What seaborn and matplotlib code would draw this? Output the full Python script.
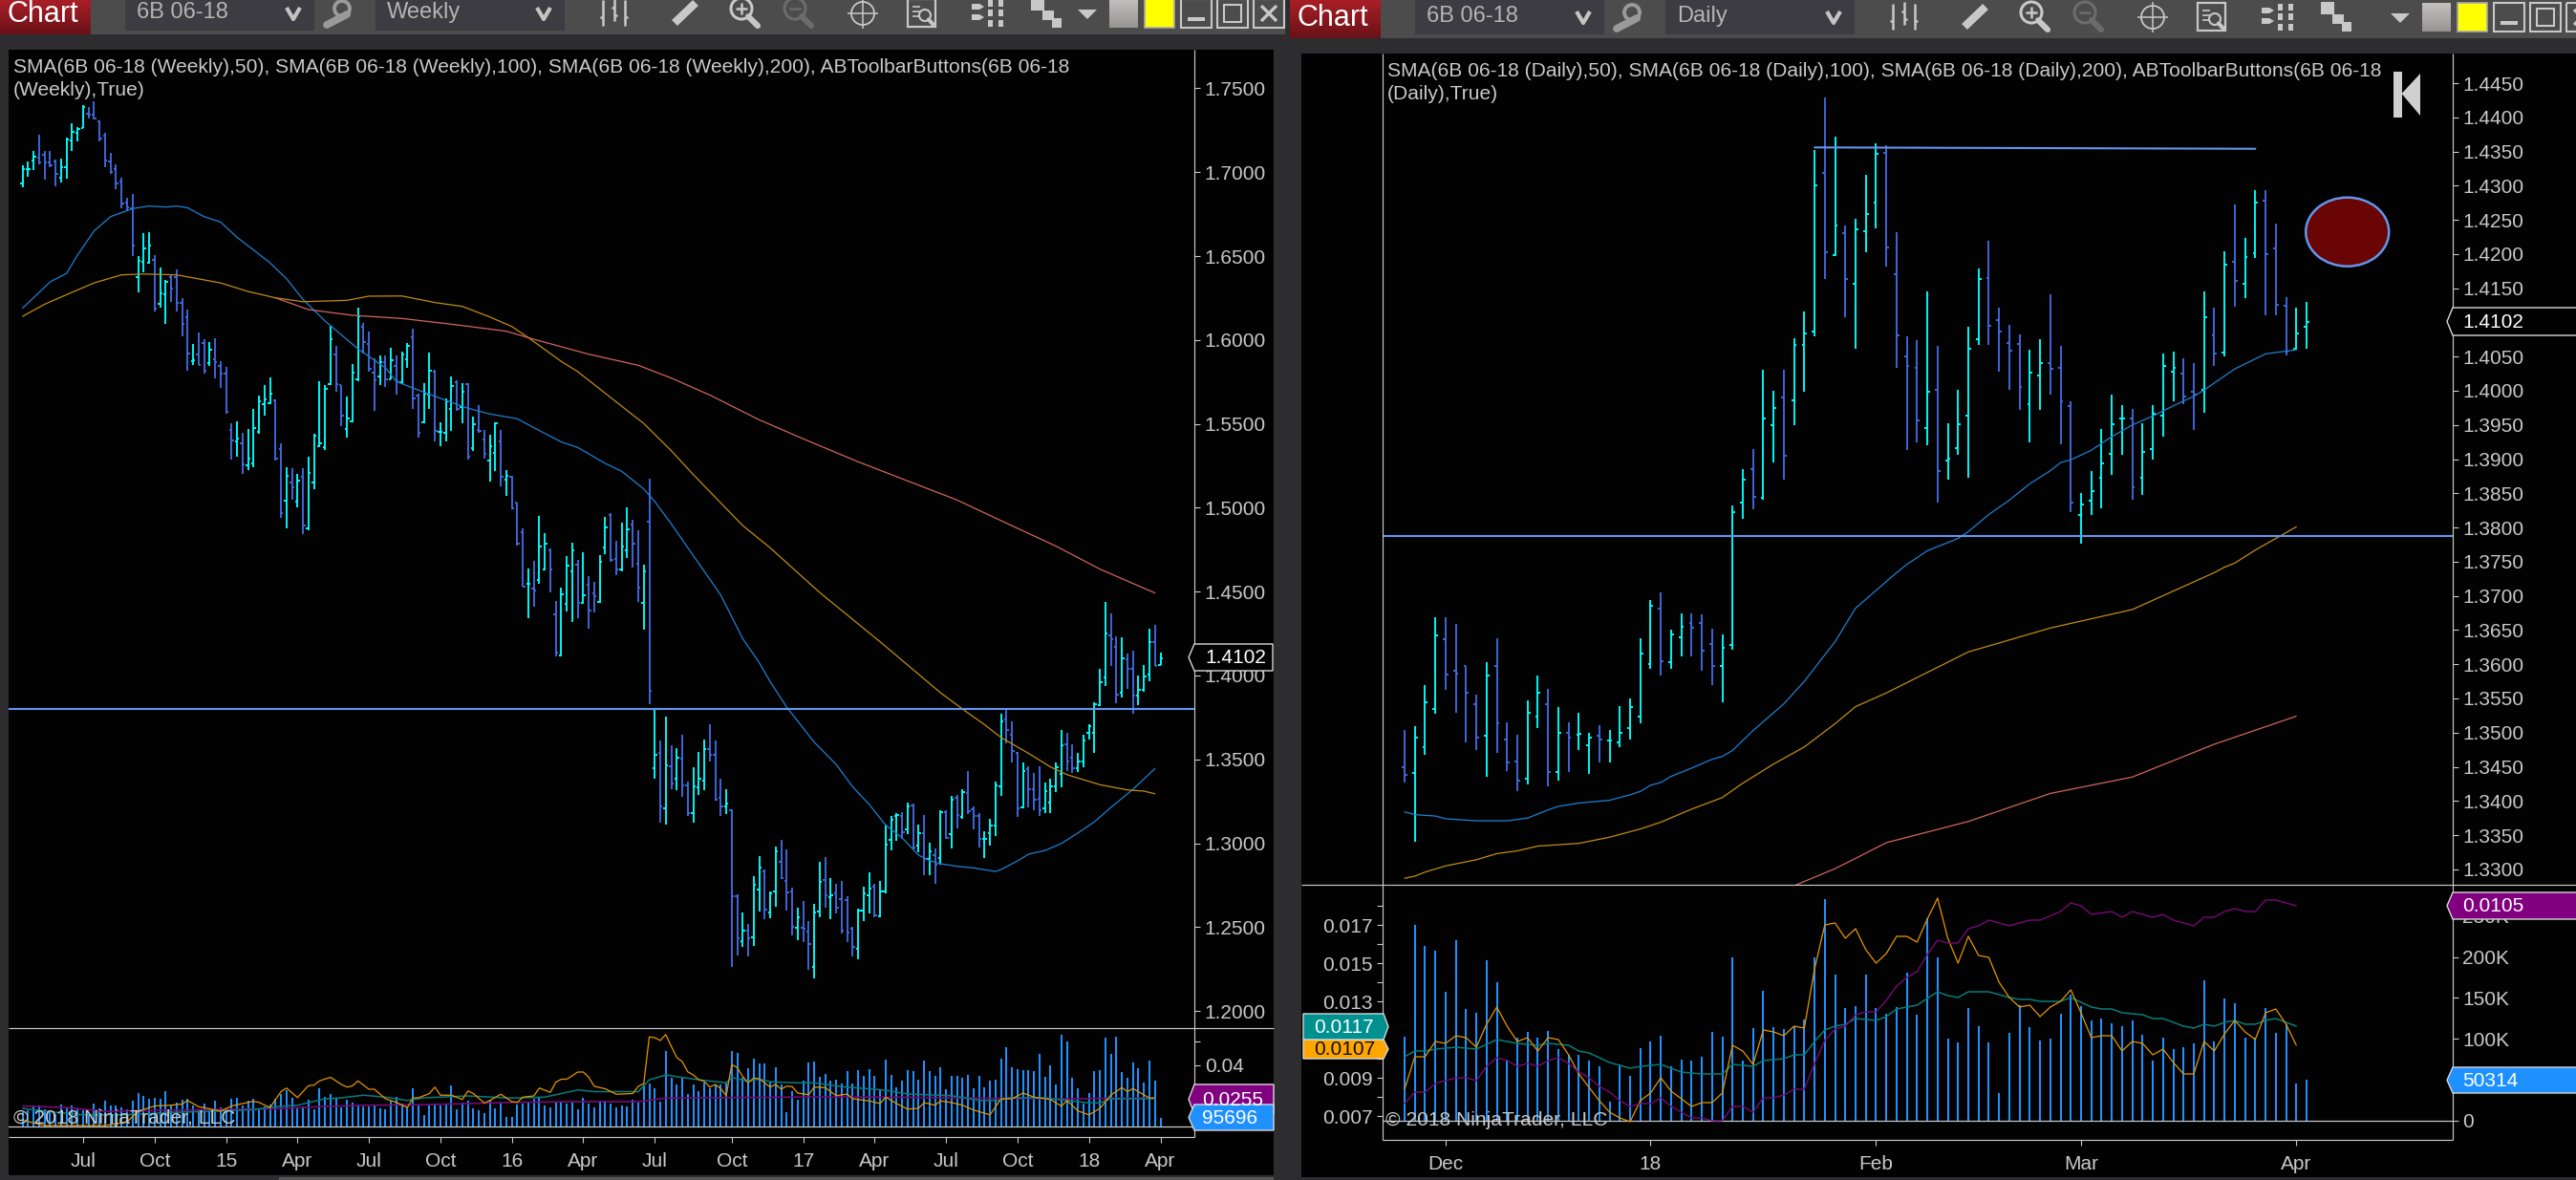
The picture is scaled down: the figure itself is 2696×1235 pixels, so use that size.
import numpy as np
import pandas as pd
import seaborn as sns
import matplotlib
matplotlib.use("Agg")
import matplotlib.pyplot as plt
from matplotlib.patches import Rectangle, Polygon, Ellipse, Circle
from matplotlib.colors import LinearSegmentedColormap

# ------------------------------------------------------------- weekly data
w_high = [1.7039,1.7062,1.7124,1.7223,1.7124,1.7124,1.7077,1.7083,1.7204,1.7290,
 1.7267,1.7400,1.7390,1.7422,1.7308,1.7233,1.7115,1.7045,1.6967,1.6845,
 1.6868,1.6502,1.6635,1.6640,1.6507,1.6431,1.6355,1.6384,1.6418,1.6247,
 1.6179,1.5976,1.6043,1.6005,1.5990,1.6010,1.5872,1.5840,1.5504,1.5513,
 1.5445,1.5467,1.5587,1.5669,1.5729,1.5775,1.5644,1.5382,1.5240,1.5234,
 1.5202,1.5234,1.5302,1.5439,1.5752,1.5729,1.6084,1.5963,1.5733,1.5663,
 1.5857,1.6195,1.6100,1.6048,1.5891,1.5906,1.5910,1.5952,1.5910,1.5929,
 1.5980,1.6067,1.5682,1.5743,1.5923,1.5821,1.5507,1.5650,1.5783,1.5758,
 1.5743,1.5741,1.5543,1.5610,1.5464,1.5435,1.5511,1.5464,1.5223,1.5188,
 1.5033,1.4875,1.4638,1.4682,1.4951,1.4847,1.4756,1.4442,1.4524,1.4710,
 1.4790,1.4689,1.4733,1.4590,1.4558,1.4720,1.4945,1.4966,1.4803,1.4909,
 1.5002,1.4926,1.4866,1.4661,1.5173,1.3797,1.3612,1.3755,1.3584,1.3569,
 1.3646,1.3366,1.3451,1.3542,1.3616,1.3707,1.3612,1.3385,1.3322,1.3204,
 1.2697,1.2587,1.2521,1.2806,1.2923,1.2844,1.2711,1.2982,1.3020,1.2961,
 1.2733,1.2616,1.2654,1.2534,1.2639,1.2887,1.2916,1.2792,1.2758,1.2777,
 1.2682,1.2502,1.2612,1.2739,1.2825,1.2758,1.2773,1.3109,1.3161,1.3180,
 1.3185,1.3242,1.3237,1.3109,1.3166,1.3001,1.2971,1.3199,1.3195,1.3280,
 1.3290,1.3322,1.3428,1.3219,1.3180,1.3071,1.3143,1.3366,1.3770,1.3808,
 1.3726,1.3546,1.3479,1.3457,1.3417,1.3457,1.3360,1.3385,1.3483,1.3673,
 1.3660,1.3588,1.3540,1.3645,1.3707,1.3840,1.4039,1.4438,1.4368,1.4235,
 1.4225,1.4129,1.4148,1.3998,1.4062,1.4277,1.4301,1.4134]
w_low = [1.6912,1.6973,1.7014,1.7048,1.6957,1.7029,1.6915,1.6940,1.6963,1.7128,
 1.7185,1.7261,1.7320,1.7314,1.7185,1.7029,1.6991,1.6900,1.6786,1.6767,
 1.6502,1.6285,1.6403,1.6456,1.6171,1.6190,1.6095,1.6228,1.6169,1.6019,
 1.5818,1.5853,1.5849,1.5802,1.5847,1.5771,1.5714,1.5562,1.5287,1.5304,
 1.5204,1.5226,1.5243,1.5441,1.5549,1.5619,1.5283,1.4942,1.4879,1.5046,
 1.5001,1.4843,1.4866,1.5112,1.5359,1.5346,1.5729,1.5691,1.5486,1.5420,
 1.5511,1.5754,1.5919,1.5811,1.5578,1.5733,1.5720,1.5764,1.5676,1.5739,
 1.5834,1.5591,1.5420,1.5505,1.5591,1.5397,1.5369,1.5397,1.5460,1.5578,
 1.5505,1.5289,1.5340,1.5448,1.5293,1.5156,1.5221,1.5128,1.5071,1.4993,
 1.4773,1.4528,1.4344,1.4410,1.4547,1.4625,1.4496,1.4116,1.4116,1.4382,
 1.4319,1.4344,1.4429,1.4281,1.4376,1.4435,1.4723,1.4680,1.4600,1.4619,
 1.4701,1.4644,1.4439,1.4273,1.3831,1.3385,1.3124,1.3113,1.3325,1.3318,
 1.3276,1.3162,1.3124,1.3290,1.3318,1.3489,1.3252,1.3162,1.3172,1.2265,
 1.2331,1.2384,1.2325,1.2388,1.2593,1.2546,1.2555,1.2621,1.2787,1.2600,
 1.2451,1.2422,1.2411,1.2246,1.2194,1.2559,1.2616,1.2549,1.2582,1.2460,
 1.2411,1.2327,1.2308,1.2536,1.2582,1.2559,1.2559,1.2701,1.2957,1.3014,
 1.3024,1.3052,1.2961,1.2948,1.2811,1.2809,1.2758,1.2872,1.3024,1.2971,
 1.3090,1.3143,1.3176,1.3085,1.2976,1.2914,1.2986,1.3043,1.3284,1.3597,
 1.3483,1.3157,1.3208,1.3214,1.3199,1.3162,1.3181,1.3179,1.3305,1.3333,
 1.3432,1.3417,1.3423,1.3455,1.3618,1.3540,1.3815,1.3939,1.4058,1.3836,
 1.3869,1.3922,1.3774,1.3825,1.3903,1.3967,1.4055,1.4062]
w_open = [1.6934,1.7020,1.7067,1.7086,1.7105,1.7058,1.7064,1.6967,1.7029,1.7191,
 1.7233,1.7261,1.7346,1.7343,1.7305,1.7219,1.7064,1.7020,1.6944,1.6821,
 1.6783,1.6374,1.6466,1.6460,1.6479,1.6213,1.6274,1.6374,1.6374,1.6223,
 1.6137,1.5876,1.5915,1.5980,1.5862,1.5885,1.5843,1.5800,1.5464,1.5397,
 1.5384,1.5255,1.5264,1.5450,1.5619,1.5625,1.5638,1.5350,1.5042,1.5150,
 1.5037,1.5185,1.4875,1.5150,1.5369,1.5363,1.5735,1.5915,1.5729,1.5469,
 1.5515,1.5764,1.6081,1.5976,1.5805,1.5783,1.5866,1.5767,1.5843,1.5748,
 1.5885,1.6018,1.5669,1.5511,1.5672,1.5809,1.5450,1.5448,1.5587,1.5748,
 1.5600,1.5739,1.5356,1.5464,1.5407,1.5283,1.5325,1.5393,1.5166,1.5185,
 1.5033,1.4856,1.4547,1.4520,1.4571,1.4632,1.4748,1.4366,1.4120,1.4425,
 1.4623,1.4663,1.4433,1.4543,1.4490,1.4439,1.4765,1.4957,1.4695,1.4632,
 1.4748,1.4900,1.4666,1.4433,1.4917,1.3447,1.3540,1.3208,1.3457,1.3385,
 1.3504,1.3347,1.3181,1.3333,1.3375,1.3559,1.3527,1.3271,1.3219,1.3199,
 1.2682,1.2416,1.2477,1.2439,1.2724,1.2830,1.2587,1.2711,1.2891,1.2775,
 1.2711,1.2498,1.2496,1.2473,1.2261,1.2591,1.2783,1.2678,1.2701,1.2667,
 1.2663,1.2492,1.2369,1.2597,1.2692,1.2739,1.2565,1.2714,1.3018,1.3161,
 1.3163,1.3081,1.3223,1.2986,1.3062,1.2904,1.2929,1.2910,1.3185,1.3052,
 1.3271,1.3157,1.3299,1.3204,1.3161,1.3028,1.3062,1.3104,1.3341,1.3739,
 1.3645,1.3536,1.3214,1.3442,1.3322,1.3265,1.3210,1.3242,1.3341,1.3413,
 1.3588,1.3508,1.3445,1.3489,1.3660,1.3660,1.3821,1.3986,1.4239,1.4172,
 1.3897,1.4096,1.4039,1.3878,1.3916,1.4005,1.4201,1.4064]
w_close = [1.7020,1.7020,1.7090,1.7058,1.7058,1.7039,1.6991,1.7029,1.7195,1.7238,
 1.7257,1.7390,1.7343,1.7320,1.7200,1.7067,1.7001,1.6931,1.6811,1.6792,
 1.6564,1.6469,1.6545,1.6560,1.6185,1.6280,1.6346,1.6308,1.6223,1.6095,
 1.5919,1.5881,1.5853,1.5819,1.5944,1.5868,1.5800,1.5572,1.5401,1.5411,
 1.5261,1.5293,1.5477,1.5635,1.5644,1.5682,1.5293,1.4970,1.5188,1.5122,
 1.5164,1.4894,1.5207,1.5430,1.5384,1.5710,1.6005,1.5739,1.5549,1.5530,
 1.5805,1.6141,1.5986,1.5830,1.5758,1.5868,1.5767,1.5877,1.5754,1.5915,
 1.5963,1.5654,1.5448,1.5682,1.5815,1.5458,1.5450,1.5635,1.5726,1.5591,
 1.5691,1.5306,1.5498,1.5458,1.5321,1.5369,1.5502,1.5185,1.5192,1.4999,
 1.4786,1.4530,1.4547,1.4509,1.4771,1.4786,1.4632,1.4135,1.4486,1.4657,
 1.4748,1.4433,1.4480,1.4387,1.4473,1.4676,1.4885,1.4689,1.4634,1.4771,
 1.4871,1.4784,1.4524,1.4623,1.3911,1.3527,1.3219,1.3464,1.3356,1.3508,
 1.3347,1.3181,1.3337,1.3385,1.3559,1.3527,1.3261,1.3219,1.3238,1.2682,
 1.2436,1.2477,1.2436,1.2752,1.2853,1.2606,1.2701,1.2954,1.2792,1.2707,
 1.2502,1.2559,1.2492,1.2397,1.2587,1.2771,1.2692,1.2692,1.2616,1.2479,
 1.2468,1.2384,1.2597,1.2701,1.2730,1.2568,1.2714,1.2990,1.3138,1.3166,
 1.3067,1.3219,1.2976,1.3062,1.2904,1.2954,1.2872,1.3185,1.3033,1.3261,
 1.3166,1.3303,1.3189,1.3161,1.3028,1.3028,1.3104,1.3347,1.3726,1.3675,
 1.3552,1.3210,1.3432,1.3322,1.3257,1.3195,1.3309,1.3341,1.3451,1.3584,
 1.3489,1.3445,1.3489,1.3612,1.3698,1.3831,1.3960,1.4248,1.4214,1.3884,
 1.4100,1.4039,1.3878,1.3916,1.3996,1.4201,1.4058,1.4102]
w_volume_k = [154,173,223,223,184,173,134,242,211,230,
 192,173,134,250,192,276,223,223,211,184,
 276,365,326,296,307,296,376,230,261,284,
 300,223,173,250,184,276,211,184,296,307,
 230,276,296,200,219,238,296,353,392,307,
 204,219,284,184,411,315,346,307,204,284,
 261,238,219,219,223,192,184,276,319,250,
 211,411,242,123,238,246,223,246,442,184,
 253,276,192,173,142,288,192,250,108,108,
 238,250,253,296,319,230,204,253,261,246,
 253,184,307,246,204,276,276,246,211,230,
 219,284,253,468,468,412,268,816,525,456,
 525,353,456,381,473,415,456,456,473,816,
 796,525,628,731,679,679,473,638,456,158,
 381,292,497,689,703,535,569,490,508,466,
 600,466,611,542,621,542,405,724,559,422,
 497,611,593,508,713,600,542,641,405,542,
 542,525,559,415,542,422,490,501,734,858,
 641,621,611,611,600,785,532,662,456,988,
 919,525,415,250,364,600,611,960,785,971,
 587,525,689,631,473,713,497,95.696]
w_sma50_i = [0,5,8,10,13,16,20,23,26,28,30,33,36,39,42,45,48,51,55,61,66,68,72,77,81,85,90,94,98,101,106,109,113,115,118,127,131,134,136,139,144,148,151,154,157,160,163,165,167,170,173,177,178,181,183,186,189,192,195,198,202,206]
w_sma50 = [1.6190,1.6346,1.6397,1.6507,1.6650,1.6735,1.6783,1.6798,1.6792,1.6798,1.6788,1.6735,1.6703,1.6612,1.6536,1.6460,1.6365,1.6242,1.6113,1.5947,1.5834,1.5752,1.5701,1.5640,1.5593,1.5559,1.5530,1.5460,1.5392,1.5359,1.5264,1.5217,1.5112,1.5037,1.4904,1.4480,1.4220,1.4077,1.3963,1.3812,1.3603,1.3470,1.3337,1.3232,1.3109,1.3033,1.2929,1.2897,1.2878,1.2863,1.2853,1.2832,1.2844,1.2895,1.2935,1.2957,1.2999,1.3062,1.3128,1.3214,1.3322,1.3445]
w_sma100_i = [0,4,8,13,18,22,28,36,41,46,51,59,63,69,75,80,85,89,92,98,101,106,113,118,122,131,136,145,156,167,171,175,178,183,187,190,196,201,204,206]
w_sma100 = [1.6141,1.6213,1.6270,1.6340,1.6388,1.6393,1.6388,1.6340,1.6289,1.6251,1.6228,1.6236,1.6261,1.6262,1.6223,1.6200,1.6137,1.6080,1.6014,1.5872,1.5811,1.5682,1.5502,1.5340,1.5198,1.4894,1.4761,1.4495,1.4201,1.3897,1.3800,1.3707,1.3631,1.3536,1.3455,1.3409,1.3349,1.3318,1.3311,1.3295]
w_sma200_i = [46,52,60,69,79,88,93,103,112,118,125,134,143,152,161,170,178,188,196,206]
w_sma200 = [1.6251,1.6181,1.6147,1.6128,1.6090,1.6052,1.6004,1.5915,1.5849,1.5773,1.5672,1.5524,1.5397,1.5274,1.5160,1.5046,1.4923,1.4771,1.4634,1.4492]
w_orange_i = [0,4,11,15,19,21,24,27,29,30,32,34,36,38,42,43,45,47,48,50,52,53,54,56,58,59,60,61,63,64,66,68,70,71,72,74,75,76,78,80,81,82,84,85,87,89,90,91,93,94,96,97,98,99,101,102,103,104,106,108,111,112,113,114,115,116,117,118,119,120,121,122,123,124,125,126,127,128,129,130,131,132,133,134,136,137,138,139,140,141,143,144,146,148,150,151,154,156,157,159,161,163,164,166,167,169,171,173,176,178,180,182,184,187,189,190,192,194,196,198,200,201,202,205,206]
w_orange = [.0170,.0148,.0148,.0148,.0163,.0208,.0230,.0233,.0238,.0253,.0227,.0218,.0208,.0230,.0250,.0245,.0223,.0290,.0305,.0265,.0315,.0317,.0335,.0350,.0320,.0309,.0314,.0335,.0300,.0300,.0260,.0245,.0223,.0264,.0264,.0282,.0309,.0275,.0275,.0257,.0293,.0282,.0242,.0253,.0279,.0248,.0245,.0267,.0272,.0305,.0287,.0330,.0342,.0342,.0372,.0372,.0350,.0312,.0302,.0279,.0282,.0312,.0324,.0519,.0516,.0504,.0529,.0480,.0433,.0416,.0373,.0360,.0340,.0333,.0309,.0320,.0303,.0273,.0403,.0391,.0353,.0327,.0347,.0344,.0309,.0320,.0300,.0313,.0311,.0284,.0277,.0309,.0307,.0273,.0280,.0260,.0251,.0240,.0267,.0240,.0217,.0220,.0244,.0233,.0251,.0244,.0233,.0213,.0193,.0260,.0260,.0284,.0267,.0257,.0229,.0253,.0209,.0193,.0220,.0276,.0307,.0290,.0303,.0263,.0264]
w_teal_i = [0,4,11,19,27,35,42,46,50,55,58,62,66,70,73,81,89,95,101,104,112,114,117,120,124,128,129,132,134,136,141,144,149,157,161,169,174,178,179,186,190,194,196,198,206]
w_teal = [.0220,.0208,.0193,.0193,.0203,.0208,.0215,.0227,.0233,.0260,.0264,.0275,.0267,.0253,.0264,.0272,.0263,.0267,.0297,.0290,.0290,.0339,.0360,.0349,.0337,.0327,.0349,.0333,.0343,.0331,.0327,.0327,.0311,.0296,.0280,.0273,.0253,.0253,.0264,.0264,.0253,.0243,.0243,.0260,.0260]
w_purple_i = [0,8,15,23,35,46,54,62,73,89,101,112,117,141,157,173,189,206]
w_purple = [.0230,.0223,.0208,.0211,.0215,.0218,.0227,.0233,.0235,.0245,.0248,.0248,.0263,.0267,.0267,.0263,.0260,.0263]
w_tick_i = [11,24,37,50,63,76,89,102,115,129,142,155,168,181,194,207]
w_tick_lab = ["Jul","Oct","15","Apr","Jul","Oct","16","Apr","Jul","Oct","17","Apr","Jul","Oct","18","Apr"]
w_level = 1.38

# -------------------------------------------------------------- daily data
d_high = [1.3504,1.3510,1.3569,1.3669,1.3669,1.3659,1.3597,1.3555,1.3603,1.3638,
 1.3515,1.3497,1.3547,1.3583,1.3564,1.3538,1.3515,1.3529,1.3499,1.3511,
 1.3504,1.3539,1.3550,1.3638,1.3694,1.3705,1.3650,1.3674,1.3675,1.3673,
 1.3652,1.3643,1.3832,1.3885,1.3915,1.4031,1.4000,1.4031,1.4077,1.4116,
 1.4352,1.4429,1.4372,1.4242,1.4251,1.4316,1.4362,1.4359,1.4232,1.4080,
 1.4074,1.4146,1.4065,1.3953,1.4001,1.4093,1.4179,1.4219,1.4122,1.4097,
 1.4082,1.4060,1.4076,1.4141,1.4065,1.3985,1.3851,1.3883,1.3944,1.3995,
 1.3979,1.3973,1.3952,1.3979,1.4055,1.4058,1.4048,1.4040,1.4146,1.4122,
 1.4204,1.4272,1.4223,1.4294,1.4293,1.4244,1.4137,1.4122,1.4130]
d_low = [1.3427,1.3340,1.3467,1.3527,1.3562,1.3529,1.3486,1.3474,1.3435,1.3470,
 1.3444,1.3415,1.3424,1.3506,1.3421,1.3430,1.3442,1.3475,1.3439,1.3456,
 1.3456,1.3479,1.3490,1.3514,1.3593,1.3583,1.3593,1.3612,1.3611,1.3590,
 1.3569,1.3544,1.3621,1.3813,1.3827,1.3840,1.3895,1.3870,1.3950,1.3999,
 1.4080,1.4164,1.4197,1.4107,1.4061,1.4202,1.4238,1.4182,1.4033,1.3914,
 1.3925,1.3920,1.3837,1.3870,1.3907,1.3873,1.4067,1.4067,1.4028,1.4001,
 1.3972,1.3925,1.3972,1.3995,1.3922,1.3822,1.3776,1.3818,1.3828,1.3877,
 1.3907,1.3841,1.3848,1.3899,1.3933,1.3985,1.3980,1.3943,1.3968,1.4037,
 1.4051,1.4123,1.4135,1.4194,1.4110,1.4110,1.4052,1.4060,1.4061]
d_open = [1.3450,1.3441,1.3478,1.3534,1.3637,1.3591,1.3597,1.3542,1.3495,1.3597,
 1.3490,1.3458,1.3433,1.3524,1.3542,1.3442,1.3499,1.3497,1.3481,1.3496,
 1.3488,1.3485,1.3507,1.3524,1.3600,1.3681,1.3603,1.3640,1.3660,1.3660,
 1.3630,1.3597,1.3628,1.3836,1.3885,1.3844,1.3950,1.3990,1.3986,1.4067,
 1.4087,1.4319,1.4199,1.4230,1.4157,1.4233,1.4275,1.4348,1.4170,1.4050,
 1.4033,1.3946,1.4002,1.3898,1.3916,1.3964,1.4075,1.4165,1.4103,1.4070,
 1.4068,1.3981,1.4023,1.4040,1.4033,1.3978,1.3818,1.3839,1.3873,1.3908,
 1.3960,1.3960,1.3873,1.3915,1.3964,1.4028,1.4025,1.3999,1.4001,1.4081,
 1.4056,1.4189,1.4156,1.4201,1.4278,1.4208,1.4124,1.4062,1.4093]
d_close = [1.3438,1.3492,1.3545,1.3642,1.3585,1.3586,1.3558,1.3492,1.3584,1.3514,
 1.3456,1.3430,1.3529,1.3558,1.3442,1.3499,1.3493,1.3498,1.3493,1.3490,
 1.3489,1.3499,1.3537,1.3616,1.3686,1.3605,1.3644,1.3655,1.3654,1.3620,
 1.3598,1.3624,1.3823,1.3870,1.3845,1.3960,1.3975,1.3905,1.4067,1.4084,
 1.4301,1.4203,1.4242,1.4163,1.4236,1.4259,1.4346,1.4210,1.4081,1.4037,
 1.3957,1.3999,1.3883,1.3901,1.3951,1.4061,1.4164,1.4095,1.4087,1.4059,
 1.4006,1.4027,1.4040,1.4032,1.3985,1.3836,1.3834,1.3853,1.3894,1.3951,
 1.3960,1.3859,1.3911,1.3967,1.4037,1.4033,1.3992,1.3994,1.4107,1.4054,
 1.4184,1.4161,1.4196,1.4276,1.4200,1.4126,1.4058,1.4084,1.4101]
d_volume_k = [103,239,213,208,158,220,137,132,196,169,
 75,101,108,101,110,87,80,80,73,67,
 23,69,55,89,97,104,66,75,74,78,
 109,103,200,73,113,159,114,112,116,124,
 199,271,178,138,140,179,138,131,139,181,
 129,247,200,100,96,138,115,96,34,107,
 141,114,98,100,131,154,140,123,125,119,
 116,122,105,73,102,88,90,95,171,97,
 149,144,101,102,138,107,118,45,50.314]
d_sma50_i = [0,1,3,4,7,10,12,14,15,17,20,22,23,24,25,26,28,30,31,32,34,37,39,42,44,48,49,51,54,55,57,59,61,63,64,65,67,68,69,71,73,75,77,78,81,84,87]
d_sma50 = [1.3384,1.3380,1.3378,1.3374,1.3371,1.3371,1.3375,1.3387,1.3392,1.3397,1.3401,1.3409,1.3414,1.3423,1.3427,1.3436,1.3448,1.3461,1.3465,1.3474,1.3503,1.3542,1.3575,1.3633,1.3682,1.3734,1.3746,1.3766,1.3784,1.3794,1.3819,1.3840,1.3864,1.3883,1.3895,1.3899,1.3913,1.3923,1.3933,1.3950,1.3963,1.3978,1.3992,1.4001,1.4032,1.4054,1.4060]
d_sma100_i = [0,1,2,4,7,9,11,13,17,20,23,25,28,31,33,36,39,42,44,47,55,63,71,79,80,81,83,85,87]
d_sma100 = [1.3287,1.3290,1.3296,1.3305,1.3314,1.3323,1.3327,1.3334,1.3338,1.3347,1.3359,1.3369,1.3388,1.3405,1.3426,1.3454,1.3479,1.3513,1.3538,1.3558,1.3618,1.3653,1.3680,1.3734,1.3742,1.3748,1.3767,1.3784,1.3801]
d_sma200_i = [38,42,44,47,55,63,71,79,87]
d_sma200 = [1.3276,1.3301,1.3316,1.3339,1.3370,1.3411,1.3435,1.3483,1.3524]
d_orange = [.0084,.0101,.0101,.0109,.0108,.0112,.0111,.0106,.0118,.0127,.0117,.0109,.0111,.0104,.0111,.0110,.0102,.0092,.0085,.0078,.0072,.0069,.0067,.0078,.0082,.0090,.0083,.0079,.0075,.0077,.0077,.0082,.0107,.0104,.0097,.0115,.0114,.0112,.0117,.0116,.0147,.0170,.0171,.0163,.0168,.0157,.0150,.0155,.0164,.0164,.0161,.0173,.0184,.0163,.0150,.0164,.0154,.0153,.0140,.0132,.0127,.0128,.0122,.0127,.0130,.0136,.0124,.0111,.0112,.0112,.0104,.0109,.0108,.0102,.0105,.0098,.0092,.0092,.0109,.0104,.0113,.0120,.0114,.0110,.0124,.0126,.0118,.0107]
d_teal_i = [0,1,2,3,5,7,9,11,13,14,16,17,18,20,22,23,25,27,29,31,32,34,35,37,38,39,40,41,42,43,44,46,47,48,49,50,52,53,54,55,56,57,59,60,61,62,64,65,67,68,69,70,72,73,74,76,77,78,79,80,81,82,83,84,85,86,87]
d_teal = [.0101,.0104,.0104,.0105,.0106,.0105,.0110,.0108,.0107,.0108,.0107,.0104,.0103,.0098,.0095,.0096,.0097,.0093,.0092,.0092,.0097,.0096,.0099,.0100,.0102,.0102,.0109,.0115,.0117,.0118,.0121,.0120,.0122,.0126,.0127,.0128,.0135,.0133,.0132,.0135,.0135,.0135,.0132,.0131,.0131,.0130,.0130,.0132,.0127,.0126,.0126,.0124,.0123,.0121,.0121,.0117,.0116,.0118,.0117,.0119,.0120,.0118,.0118,.0120,.0121,.0119,.0117]
d_purple_i = list(range(0, 63)) + [64,65,66,67,69,70,71,72,73,74,75,76,77,78,79,80,81,82,83,84,85,86,87]
d_purple = [.0036,.0040,.0040,.0043,.0044,.0045,.0045,.0044,.0049,.0052,.0051,.0049,.0050,.0049,.0051,.0052,.0050,.0047,.0045,.0042,.0040,.0037,.0035,.0036,.0036,.0038,.0035,.0033,.0031,.0031,.0030,.0030,.0035,.0035,.0033,.0038,.0038,.0039,.0041,.0041,.0050,.0058,.0062,.0063,.0067,.0068,.0068,.0072,.0077,.0080,.0082,.0088,.0093,.0092,.0092,.0097,.0098,.0100,.0099,.0098,.0099,.0100,.0100,.0103,.0106,.0105,.0102,.0103,.0101,.0103,.0102,.0101,.0102,.0100,.0099,.0098,.0101,.0101,.0103,.0104,.0103,.0103,.0107,.0107,.0106,.0105]
d_tick_i = [4,24,46,66,87]
d_tick_lab = ["Dec","18","Feb","Mar","Apr"]
d_level = 1.3787
d_res_i = [40, 83]
d_res = [1.4356, 1.4354]

# ---------------------------------------------------------------- styling
W, H = 2696, 1235
FONT = "Liberation Sans"
GREY = "#c8c8c8"
CY, BL = "#00ffff", "#4169e1"
LAB = 15
sns.set_theme(style="dark", rc={"axes.grid": False})
plt.rcParams["font.family"] = [FONT, "DejaVu Sans"]

fig = plt.figure(figsize=(W / 100, H / 100), dpi=100, facecolor="#2d2d30")


def axpx(x0, y0, x1, y1, **kw):
    return fig.add_axes([x0 / W, 1 - y1 / H, (x1 - x0) / W, (y1 - y0) / H], **kw)


bg = axpx(0, 0, W, H, zorder=0)
bg.set_xlim(0, W); bg.set_ylim(H, 0); bg.axis("off")
bg.add_patch(Rectangle((9, 52), 1324, 1178, fc="#020202", ec="none"))
bg.add_patch(Rectangle((1362, 56), 1334, 1176, fc="#020202", ec="none"))
bg.add_patch(Rectangle((292, 1232), 1041, 3, fc="#555555", ec="none"))
bg.add_patch(Rectangle((0, 0), 1345, 36, fc="#4c4c4c", ec="none"))
bg.add_patch(Rectangle((1350, 0), 1346, 40, fc="#4c4c4c", ec="none"))


def clean(ax):
    ax.patch.set_visible(False)
    for s in ax.spines.values():
        s.set_visible(False)
    ax.set_xlabel(""); ax.set_ylabel("")
    ax.grid(False)


def ohlc(ax, high, low, opn, close, tick, lw):
    x = np.arange(len(high))
    hi, lo, op, cl = map(np.asarray, (high, low, opn, close))
    up = cl >= op
    for mask, col in ((~up, BL), (up, CY)):
        ax.vlines(x[mask], lo[mask], hi[mask], color=col, lw=lw, zorder=3)
        ax.hlines(op[mask], x[mask] - tick, x[mask], color=col, lw=lw, zorder=3)
        ax.hlines(cl[mask], x[mask], x[mask] + tick, color=col, lw=lw, zorder=3)


def sline(ax, x, y, col, lw=0.9, z=4):
    sns.lineplot(x=np.asarray(x), y=np.asarray(y), ax=ax, color=col, lw=lw,
                 estimator=None, legend=False, zorder=z, solid_joinstyle="round")


SMA_BLUE, SMA_GOLD, SMA_RED = "#1f7fd0", "#c08c14", "#d0655c"
ORG, TEAL, PUR = "#e69500", "#0a7a7a", "#750a75"
VOLC = "#1e90ff"

# ------------------------------------------------------------- weekly panel
wslope = (1214.5 - 23.7) / 207
wxlim = ((9 - 23.7) / wslope, (1250 - 23.7) / wslope)
ylim_w = (1.40 + (707 - 1076) / 1756, 1.40 + (707 - 52) / 1756)

axw = axpx(9, 52, 1250, 1076, zorder=2)
ohlc(axw, w_high, w_low, w_open, w_close, 0.42, 1.35)
sline(axw, w_sma50_i, w_sma50, SMA_BLUE)
sline(axw, w_sma100_i, w_sma100, SMA_GOLD)
sline(axw, w_sma200_i, w_sma200, SMA_RED)
axw.axhline(w_level, color="#6495ed", lw=1.5, zorder=5)
axw.set_xlim(*wxlim); axw.set_ylim(*ylim_w)
clean(axw)
axw.set_xticks([])
wticks = [1.20 + 0.05 * k for k in range(12)]
axw.yaxis.tick_right()
axw.set_yticks(wticks, [f"{v:.4f}" for v in wticks])
axw.tick_params(axis="y", length=4.3, width=0.8, color=GREY, labelcolor=GREY, labelsize=LAB, pad=3.5, right=True)

axwv = axpx(9, 1076, 1250, 1190, zorder=2)
axwv.vlines(np.arange(len(w_volume_k)), 0, np.asarray(w_volume_k) * 1000.0, color=VOLC, lw=1.45, zorder=2)
axwv.axhline(0, color=GREY, lw=0.9, zorder=2)
axwv.set_xlim(*wxlim); axwv.set_ylim(-11 * 10300, 103 * 10300)
clean(axwv)
axwv.set_xticks(w_tick_i, w_tick_lab)
axwv.tick_params(axis="x", length=4.3, width=0.8, color=GREY, labelcolor=GREY, labelsize=LAB, pad=7, bottom=True)
axwv.set_yticks([])
axwa = axwv.twinx(); axwa.set_zorder(3)
sline(axwa, w_purple_i, w_purple, PUR, 1.2)
sline(axwa, w_teal_i, w_teal, TEAL, 1.1)
sline(axwa, w_orange_i, w_orange, ORG, 0.9)
axwa.set_xlim(*wxlim); axwa.set_ylim(0.04 - 75 / 2500, 0.04 + 39 / 2500)
clean(axwa)
axwa.yaxis.tick_right()
axwa.set_yticks([0.03, 0.04, 0.05], ["", "0.04", ""])
axwa.tick_params(axis="y", length=4.3, width=0.8, color=GREY, labelcolor=GREY, labelsize=LAB, pad=3.5, right=True)

# -------------------------------------------------------------- daily panel
dslope = (2414 - 1470) / 88
dxlim = ((1447 - 1470) / dslope, (2567 - 1470) / dslope)
ylim_d = (1.40 + (409 - 926) / 7155, 1.40 + (409 - 56) / 7155)

axd = axpx(1447, 56, 2567, 926, zorder=2)
ohlc(axd, d_high, d_low, d_open, d_close, 0.26, 1.35)
sline(axd, d_sma50_i, d_sma50, SMA_BLUE)
sline(axd, d_sma100_i, d_sma100, SMA_GOLD)
sline(axd, d_sma200_i, d_sma200, SMA_RED)
axd.axhline(d_level, color="#6495ed", lw=1.5, zorder=5)
sline(axd, d_res_i, d_res, "#6495ed", 1.5, 5)
axd.set_xlim(*dxlim); axd.set_ylim(*ylim_d)
clean(axd)
axd.set_xticks([])
dticks = [1.33 + 0.005 * k for k in range(24)]
axd.yaxis.tick_right()
axd.set_yticks(dticks, [f"{v:.4f}" for v in dticks])
axd.tick_params(axis="y", length=4.3, width=0.8, color=GREY, labelcolor=GREY, labelsize=LAB, pad=3, right=True)

axdv = axpx(1447, 926, 2567, 1193, zorder=2)
axdv.vlines(np.arange(len(d_volume_k)), 0, np.asarray(d_volume_k) * 1000.0, color=VOLC, lw=1.45, zorder=2)
axdv.axhline(0, color=GREY, lw=0.9, zorder=2)
axdv.set_xlim(*dxlim); axdv.set_ylim(-20 / 0.857 * 1000, 247 / 0.857 * 1000)
clean(axdv)
axdv.set_xticks(d_tick_i, d_tick_lab)
axdv.tick_params(axis="x", length=4.3, width=0.8, color=GREY, labelcolor=GREY, labelsize=LAB, pad=7, bottom=True)

axda = axdv.twinx(); axda.set_zorder(3)
sline(axda, d_teal_i, d_teal, TEAL, 1.1)
sline(axda, np.arange(len(d_orange)), d_orange, ORG, 0.9)
axda.set_xlim(*dxlim); axda.set_ylim(0.007 + (1168 - 1193) / 20000, 0.007 + (1168 - 926) / 20000)
clean(axda)
axda.yaxis.tick_left()
at = [0.007 + 0.001 * k for k in range(12)]
axda.set_yticks(at, [f"{v:.3f}" if k % 2 == 0 else "" for k, v in enumerate(at)])
axda.tick_params(axis="y", length=4.3, width=0.8, color=GREY, labelcolor=GREY, labelsize=LAB, pad=3, left=True, right=False)

axdp = axdv.twinx(); axdp.set_zorder(3)
sline(axdp, d_purple_i, d_purple, PUR, 1.0)
axdp.set_xlim(*dxlim); axdp.set_ylim(0.0105 + (948 - 1193) / 30000, 0.0105 + (948 - 926) / 30000)
clean(axdp)
axdp.set_yticks([])

# twinx moves the original axis ticks to the left: put volume labels back on the right
axdv.yaxis.tick_right()
vt = [0, 50000, 100000, 150000, 200000, 250000]
axdv.set_yticks(vt, ["0", "50K", "100K", "150K", "200K", "250K"])
axdv.tick_params(axis="y", length=4.3, width=0.8, color=GREY, labelcolor=GREY, labelsize=LAB, pad=3, right=True, left=False)

# ------------------------------------------------------- chrome (pixel axes)
ov = axpx(0, 0, W, H, zorder=10)
ov.patch.set_visible(False)
ov.axis("off")


def line(xs, ys, c=GREY, lw=0.85, **kw):
    ov.plot(xs, ys, color=c, lw=lw, solid_capstyle=kw.pop("cap", "butt"), **kw)


def rect(x0, y0, x1, y1, fc, ec="none", lw=1.0):
    ov.add_patch(Rectangle((x0, y0), x1 - x0, y1 - y0, fc=fc, ec=ec, lw=lw))


def grad(x0, y0, x1, y1, c0, c1):
    cm = LinearSegmentedColormap.from_list("g", [c0, c1])
    ov.imshow(np.linspace(0, 1, 32)[:, None], extent=(x0, x1, y1, y0), cmap=cm, aspect="auto", zorder=1)


def txt(x, y, s, size=LAB, c=GREY, ha="left", va="center", **kw):
    ov.text(x, y, s, fontsize=size, color=c, ha=ha, va=va, family=FONT, **kw)


def chevron(x, y):
    line([x - 7, x, x + 7], [y - 6, y + 6, y - 6], "#c4c4c4", 3.0)


def magnifier(cx, cy, r, hx, hy, c, lw=2.2):
    ov.add_patch(Circle((cx, cy), r, fc="none", ec=c, lw=lw))
    line([cx + r * .65, hx], [cy + r * .75, hy], c, lw * 2.0, cap="round")


def toolbar(ox, oy, ox2, frame):
    grad(1350 + ox, 0, 1445 + ox, 40 + oy, "#a91e26", "#6a1218")
    txt(1395 + ox, 19 + oy, "Chart", 22, "white", ha="center")
    rect(1481 + ox, 0, 1679 + ox, 36 + oy, "#3c3c42")
    rect(1743 + ox, 0, 1941 + ox, 36 + oy, "#3c3c42")
    txt(1493 + ox, 17 + oy, "6B 06-18", 17, "#b4b4b4")
    txt(1755 + ox, 17 + oy, frame, 17, "#b4b4b4")
    chevron(1657 + ox, 18 + oy); chevron(1919 + ox, 18 + oy)
    magnifier(1708 + ox, 13 + oy, 8, 1692 + ox, 30 + oy, "#9a9a9a", 2.8)
    dy = oy
    for bx, a, b, t1, t2 in ((1981, 4, 31, 22, None), (1993, 2, 26, 12, 20), (2004, 4, 31, None, 22)):
        line([bx + ox] * 2, [a + dy, b + dy], "#c8c8c8", 1.8)
        if t1: line([bx + ox - 3, bx + ox], [t1 + dy] * 2, "#c8c8c8", 1.8)
        if t2: line([bx + ox, bx + ox + 3], [t2 + dy] * 2, "#c8c8c8", 1.8)
    line([2056 + ox, 2078 + ox], [28 + dy, 7 + dy], "#c8c8c8", 6)
    magnifier(2126 + ox, 13 + dy, 11, 2143 + ox, 31 + dy, "#c8c8c8")
    line([2120 + ox, 2132 + ox], [13 + dy] * 2, "#c8c8c8", 1.8)
    line([2126 + ox] * 2, [7 + dy, 19 + dy], "#c8c8c8", 1.8)
    magnifier(2182 + ox, 13 + dy, 11, 2199 + ox, 31 + dy, "#6c6c6c")
    line([2176 + ox, 2188 + ox], [13 + dy] * 2, "#6c6c6c", 1.8)
    ov.add_patch(Circle((2253 + ox, 18 + dy), 12, fc="none", ec="#c8c8c8", lw=1.3))
    line([2237 + ox, 2269 + ox], [18 + dy] * 2, "#c8c8c8", 1.1)
    line([2253 + ox] * 2, [2 + dy, 34 + dy], "#c8c8c8", 1.1)
    rect(2300 + ox, 3 + dy, 2329 + ox, 32 + dy, "none", "#c8c8c8", 1.6)
    for r in (11, 16, 21):
        line([2305 + ox, 2313 + ox], [r + dy] * 2, "#c8c8c8", 1.2)
    magnifier(2318 + ox, 20 + dy, 6, 2328 + ox, 31 + dy, "#c8c8c8", 1.5)
    for cx in (2386, 2397):
        for cy in (7, 17, 28):
            rect(cx - 2.5 + ox, cy - 3.5 + dy, cx + 2.5 + ox, cy + 3.5 + dy, "#c8c8c8")
    for cy in (11, 22):
        ov.add_patch(Polygon([(2367 + ox, cy - 3 + dy), (2375 + ox, cy - 3 + dy), (2380 + ox, cy + dy),
                              (2375 + ox, cy + 3 + dy), (2367 + ox, cy + 3 + dy)], fc="#c8c8c8", ec="none"))
    rect(2429 + ox, 2 + dy, 2443 + ox, 15 + dy, "#c8c8c8")
    rect(2441 + ox, 15 + dy, 2453 + ox, 25 + dy, "#c8c8c8")
    rect(2451 + ox, 23 + dy, 2461 + ox, 33 + dy, "#c8c8c8")
    ov.add_patch(Polygon([(2502 + ox2, 14 + dy), (2522 + ox2, 14 + dy), (2512 + ox2, 24 + dy)], fc="#c8c8c8", ec="none"))
    grad(2535 + ox2, 3 + dy, 2565 + ox2, 33 + dy, "#c4c0c0", "#989494")
    rect(2572 + ox2, 3 + dy, 2603 + ox2, 33 + dy, "#ffff00", "#a8a8a8", 1.2)
    rect(2610 + ox2, 3 + dy, 2642 + ox2, 33 + dy, "none", "#c8c8c8", 1.5)
    rect(2617 + ox2, 22 + dy, 2635 + ox2, 26 + dy, "#c8c8c8")
    rect(2648 + ox2, 3 + dy, 2680 + ox2, 33 + dy, "none", "#c8c8c8", 1.5)
    rect(2655 + ox2, 9 + dy, 2673 + ox2, 27 + dy, "none", "#c8c8c8", 1.5)
    rect(2686 + ox2, 3 + dy, 2718 + ox2, 33 + dy, "none", "#c8c8c8", 1.5)
    line([2694 + ox2, 2710 + ox2], [10 + dy, 26 + dy], "#c8c8c8", 2.4)
    line([2694 + ox2, 2710 + ox2], [26 + dy, 10 + dy], "#c8c8c8", 2.4)


toolbar(-1350, -4, -1374, "Weekly")
toolbar(0, 0, 0, "Daily")

line([1250, 1250], [52, 1190])
line([9, 1333], [1076, 1076])
line([9, 1250], [1190, 1190])
line([1447, 1447], [56, 1193])
line([2567, 2567], [56, 1193])
line([1362, 2696], [926, 926])
line([1447, 2567], [1193, 1193])

HDR = 15.1
txt(14, 70, "SMA(6B 06-18 (Weekly),50), SMA(6B 06-18 (Weekly),100), SMA(6B 06-18 (Weekly),200), ABToolbarButtons(6B 06-18", HDR)
txt(14, 95, "(Weekly),True)", HDR)
txt(1452, 74, "SMA(6B 06-18 (Daily),50), SMA(6B 06-18 (Daily),100), SMA(6B 06-18 (Daily),200), ABToolbarButtons(6B 06-18", HDR)
txt(1452, 98, "(Daily),True)", HDR)
txt(14, 1170, "\u00a9 2018 NinjaTrader, LLC", HDR)
txt(1450, 1172, "\u00a9 2018 NinjaTrader, LLC", HDR)

rect(2504.5, 75, 2513.5, 123, "#d0d0d0")
ov.add_patch(Polygon([(2533, 77), (2533, 121), (2513.5, 98)], fc="#d0d0d0", ec="none"))
ov.add_patch(Ellipse((2456.7, 242.7), 87, 72, fc="#690505", ec="#6495ed", lw=1.8, zorder=6))


def flag_r(x0, x1, y0, y1, fc, s, tc, tx, ec="#d8d8d8"):
    ym = (y0 + y1) / 2
    pts = [(x1, y0), (x0 + 6, y0), (x0, ym), (x0 + 6, y1), (x1, y1)]
    ov.add_patch(Polygon(pts, closed=True, fc=fc, ec=ec, lw=1.0, zorder=7))
    txt(tx, ym + 1, s, LAB, tc, zorder=8)


def flag_l(x0, x1, y0, y1, fc, s, tc, tx, ec="#d8d8d8"):
    ym = (y0 + y1) / 2
    pts = [(x0, y0), (x1 - 5, y0), (x1, ym), (x1 - 5, y1), (x0, y1)]
    ov.add_patch(Polygon(pts, fc=fc, ec=ec, lw=1.0, zorder=7))
    txt(tx, ym + 1, s, LAB, tc, zorder=8)


flag_r(1244, 1332, 674, 702, "#020202", "1.4102", "white", 1261)
flag_r(1244, 1333, 1135, 1166, "#800080", "0.0255", "white", 1258)
flag_r(1244, 1333, 1156, 1183, VOLC, "95696", "white", 1258)
flag_r(2561, 2700, 322, 351, "#020202", "1.4102", "white", 2577)
flag_r(2561, 2700, 934, 962, "#800080", "0.0105", "white", 2577)
flag_r(2561, 2700, 1117, 1144, VOLC, "50314", "white", 2577)
flag_l(1364, 1453, 1088, 1108, "#ffa500", "0.0107", "#101010", 1375)
flag_l(1364, 1453, 1061, 1088, "#009090", "0.0117", "white", 1375)

ov.set_xlim(0, W); ov.set_ylim(H, 0)
fig.savefig("out.png", dpi=100, facecolor=fig.get_facecolor())
